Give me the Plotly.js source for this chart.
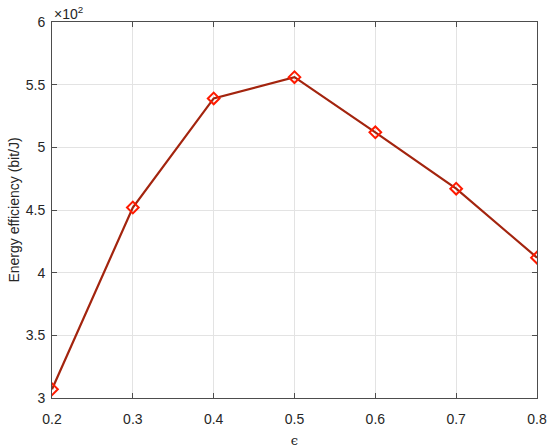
<!DOCTYPE html>
<html>
<head>
<meta charset="utf-8">
<script src="https://cdn.plot.ly/plotly-3.0.1.min.js"></script>
<style>html,body{margin:0;padding:0;background:#fff;}#chart{width:550px;height:448px;}</style>
</head>
<body>
<div id="chart"></div>
<script>
const epsilon = [0.2, 0.3, 0.4, 0.5, 0.6, 0.7, 0.8];
const efficiency = [307, 452, 539, 556, 512, 467, 412];
const xTicks = [0.2, 0.3, 0.4, 0.5, 0.6, 0.7, 0.8];
const xTickText = ['0.2', '0.3', '0.4', '0.5', '0.6', '0.7', '0.8'];
const yTicks = [300, 350, 400, 450, 500, 550, 600];
const yTickText = ['3', '3.5', '4', '4.5', '5', '5.5', '6'];

const trace = {
  x: epsilon,
  y: efficiency,
  mode: 'lines+markers',
  type: 'scatter',
  line: {color: '#a3240e', width: 2.2},
  marker: {symbol: 'diamond-open', size: 9, color: '#ff1a00', line: {width: 2, color: '#ff1a00'}},
  showlegend: false
};

const axisCommon = {
  showline: true, linecolor: '#4d4d4d', linewidth: 1,
  mirror: 'ticks', ticks: 'inside', ticklen: 5, tickcolor: '#4d4d4d',
  showgrid: true, gridcolor: '#e3e3e3', gridwidth: 1,
  zeroline: false,
  tickfont: {family: 'Liberation Sans, Arial, sans-serif', size: 14, color: '#262626'}
};

const layout = {
  width: 550, height: 448,
  margin: {l: 52, r: 13, t: 22, b: 50},
  paper_bgcolor: '#fff', plot_bgcolor: '#fff',
  xaxis: Object.assign({}, axisCommon, {
    range: [0.2, 0.8], tickvals: xTicks, ticktext: xTickText, ticklabelstandoff: 8,
    title: {text: 'ϵ', font: {family: 'DejaVu Serif, serif', size: 13, color: '#262626'}, standoff: 12}
  }),
  yaxis: Object.assign({}, axisCommon, {
    range: [300, 600], tickvals: yTicks, ticktext: yTickText, ticklabelstandoff: 3,
    title: {text: 'Energy efficiency (bit/J)', font: {family: 'Liberation Sans, Arial, sans-serif', size: 14, color: '#262626'}, standoff: 2}
  }),
  annotations: [{
    xref: 'paper', yref: 'paper', x: 0, y: 1, xanchor: 'left', yanchor: 'bottom',
    text: '×10<sup>2</sup>', showarrow: false, yshift: -2,
    font: {family: 'Liberation Sans, Arial, sans-serif', size: 14, color: '#262626'}
  }]
};

Plotly.newPlot('chart', [trace], layout, {displayModeBar: false, staticPlot: true});
</script>
</body>
</html>
